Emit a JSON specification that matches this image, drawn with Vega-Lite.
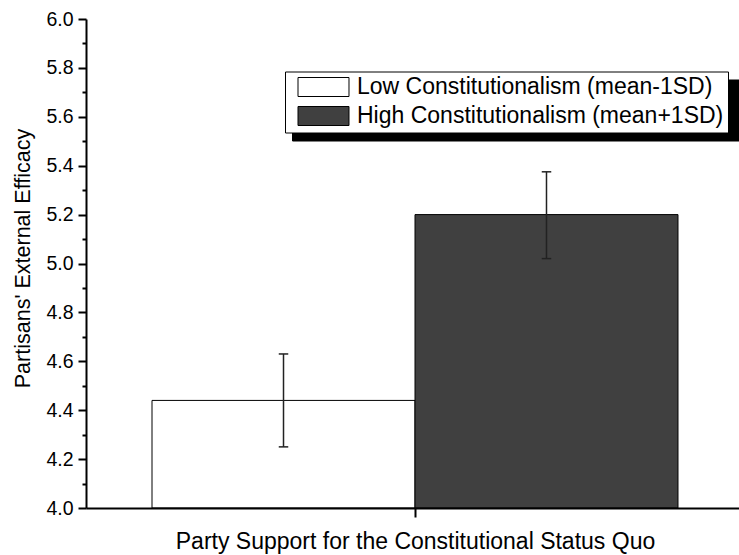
{
  "$schema": "https://vega.github.io/schema/vega-lite/v6.json",
  "width": 658,
  "height": 489,
  "autosize": {"type": "none"},
  "padding": {"left": 86, "top": 19, "right": 0, "bottom": 47},
  "background": "white",
  "config": {"view": {"stroke": null}, "font": "Liberation Sans"},
  "data": {
    "values": [
      {"category": "Party Support for the Constitutional Status Quo", "group": "Low Constitutionalism (mean-1SD)", "mean": 4.44, "lower": 4.25, "upper": 4.63},
      {"category": "Party Support for the Constitutional Status Quo", "group": "High Constitutionalism (mean+1SD)", "mean": 5.2, "lower": 5.02, "upper": 5.375}
    ]
  },
  "encoding": {
    "x": {
      "field": "category",
      "type": "nominal",
      "scale": {"paddingInner": 0, "paddingOuter": 0.1255},
      "axis": {
        "orient": "bottom",
        "labels": false,
        "tickSize": 9,
        "tickWidth": 2,
        "tickColor": "black",
        "domainColor": "black",
        "domainWidth": 2,
        "title": "Party Support for the Constitutional Status Quo",
        "titleFont": "Liberation Sans",
        "titleFontSize": 23,
        "titleFontWeight": "normal",
        "titleColor": "black",
        "titlePadding": 12,
        "zindex": 1
      }
    },
    "xOffset": {
      "field": "group",
      "type": "nominal",
      "scale": {
        "domain": ["Low Constitutionalism (mean-1SD)", "High Constitutionalism (mean+1SD)"],
        "paddingInner": 0,
        "paddingOuter": 0
      }
    }
  },
  "layer": [
    {
      "mark": {"type": "bar", "stroke": "black", "strokeWidth": 1},
      "encoding": {
        "y": {
          "field": "mean",
          "type": "quantitative",
          "scale": {"domain": [4, 6], "nice": false, "zero": false},
          "axis": {
            "orient": "left",
            "values": [4, 4.2, 4.4, 4.6, 4.8, 5, 5.2, 5.4, 5.6, 5.8, 6],
            "format": ".1f",
            "grid": false,
            "tickSize": 8,
            "tickWidth": 2,
            "tickColor": "black",
            "domainColor": "black",
            "domainWidth": 2,
            "labelFont": "Liberation Sans",
            "labelFontSize": 19.5,
            "labelColor": "black",
            "labelPadding": 5,
            "title": "Partisans' External Efficacy",
            "titleFont": "Liberation Sans",
            "titleFontSize": 21.5,
            "titleFontWeight": "normal",
            "titleColor": "black",
            "titlePadding": 11,
            "titleY": 239,
            "zindex": 1
          }
        },
        "y2": {"datum": 4},
        "fill": {
          "field": "group",
          "type": "nominal",
          "scale": {
            "domain": ["Low Constitutionalism (mean-1SD)", "High Constitutionalism (mean+1SD)"],
            "range": ["white", "#404040"]
          },
          "legend": {
            "orient": "none",
            "legendX": 199,
            "legendY": 52.5,
            "title": null,
            "direction": "vertical",
            "symbolType": "M-2.684,-1H2.684V1H-2.684Z",
            "symbolSize": 361,
            "symbolStrokeColor": "black",
            "symbolStrokeWidth": 1,
            "symbolOffset": 23,
            "labelOffset": 22,
            "labelFont": "Liberation Sans",
            "labelFontSize": 23,
            "labelColor": "black",
            "labelLimit": 700,
            "labelExpr": "datum.label + '      '",
            "rowPadding": 5,
            "padding": 4,
            "strokeColor": "black",
            "fillColor": "white",
            "zindex": 3
          }
        },
        "opacity": {
          "field": "group",
          "type": "nominal",
          "scale": {"range": [1, 1]},
          "legend": {
            "orient": "none",
            "legendX": 206,
            "legendY": 60.5,
            "title": null,
            "direction": "vertical",
            "symbolType": "M-2.684,-1H2.684V1H-2.684Z",
            "symbolSize": 361,
            "symbolStrokeColor": "black",
            "symbolFillColor": "black",
            "symbolStrokeWidth": 1,
            "symbolOffset": 23,
            "labelOffset": 460,
            "labelFont": "Liberation Sans",
            "labelFontSize": 23,
            "labelColor": "black",
            "labelLimit": 700,
            "labelExpr": "''",
            "rowPadding": 5,
            "padding": 4,
            "strokeColor": "black",
            "fillColor": "black",
            "zindex": 2,
            "encode": {"symbols": {"update": {"fill": {"value": "black"}, "stroke": {"value": "black"}}}}
          }
        }
      }
    },
    {
      "mark": {"type": "rule", "stroke": "#222222", "strokeWidth": 1.5},
      "encoding": {
        "y": {"field": "lower", "type": "quantitative", "axis": null},
        "y2": {"field": "upper"}
      }
    },
    {
      "mark": {"type": "tick", "color": "#222222", "size": 9.5, "thickness": 1.5, "opacity": 1},
      "encoding": {
        "y": {
          "field": "lower",
          "type": "quantitative",
          "axis": {
            "orient": "left",
            "values": [4.1, 4.3, 4.5, 4.7, 4.9, 5.1, 5.3, 5.5, 5.7, 5.9],
            "labels": false,
            "domain": false,
            "grid": false,
            "tickSize": 4,
            "tickWidth": 2,
            "tickColor": "black",
            "title": null,
            "zindex": 1
          }
        }
      }
    },
    {
      "mark": {"type": "tick", "color": "#222222", "size": 9.5, "thickness": 1.5, "opacity": 1},
      "encoding": {
        "y": {"field": "upper", "type": "quantitative", "axis": null}
      }
    }
  ],
  "resolve": {"axis": {"y": "independent"}}
}
